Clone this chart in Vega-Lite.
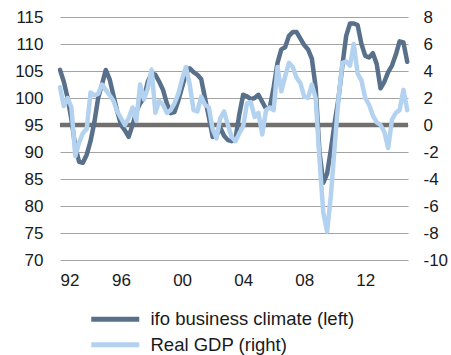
{
  "$schema": "https://vega.github.io/schema/vega-lite/v6.json",
  "width": 348,
  "height": 243,
  "autosize": {"type": "none"},
  "padding": {"left": 60, "top": 17, "right": 43, "bottom": 95},
  "background": "white",
  "config": {
    "view": {"stroke": null},
    "font": "Liberation Sans",
    "axis": {"labelFont": "Liberation Sans", "labelFontSize": 17, "labelColor": "#1a1a1a", "ticks": false, "domain": false},
    "legend": {"labelFont": "Liberation Sans", "labelFontSize": 18.5, "labelColor": "#1a1a1a", "labelLimit": 400}
  },
  "datasets": {
    "ifo": [
      {"t": 1992, "v": 105.2, "s": "ifo business climate (left)"},
      {"t": 1992.25, "v": 103, "s": "ifo business climate (left)"},
      {"t": 1992.5, "v": 100, "s": "ifo business climate (left)"},
      {"t": 1992.75, "v": 96, "s": "ifo business climate (left)"},
      {"t": 1993, "v": 91, "s": "ifo business climate (left)"},
      {"t": 1993.25, "v": 88.2, "s": "ifo business climate (left)"},
      {"t": 1993.5, "v": 88, "s": "ifo business climate (left)"},
      {"t": 1993.75, "v": 89.5, "s": "ifo business climate (left)"},
      {"t": 1994, "v": 92, "s": "ifo business climate (left)"},
      {"t": 1994.25, "v": 95.5, "s": "ifo business climate (left)"},
      {"t": 1994.5, "v": 100, "s": "ifo business climate (left)"},
      {"t": 1994.75, "v": 102.5, "s": "ifo business climate (left)"},
      {"t": 1995, "v": 105.2, "s": "ifo business climate (left)"},
      {"t": 1995.25, "v": 103.5, "s": "ifo business climate (left)"},
      {"t": 1995.5, "v": 100.5, "s": "ifo business climate (left)"},
      {"t": 1995.75, "v": 97.5, "s": "ifo business climate (left)"},
      {"t": 1996, "v": 95, "s": "ifo business climate (left)"},
      {"t": 1996.25, "v": 94, "s": "ifo business climate (left)"},
      {"t": 1996.5, "v": 92.8, "s": "ifo business climate (left)"},
      {"t": 1996.75, "v": 95, "s": "ifo business climate (left)"},
      {"t": 1997, "v": 97.5, "s": "ifo business climate (left)"},
      {"t": 1997.25, "v": 99, "s": "ifo business climate (left)"},
      {"t": 1997.5, "v": 100, "s": "ifo business climate (left)"},
      {"t": 1997.75, "v": 103, "s": "ifo business climate (left)"},
      {"t": 1998, "v": 104.5, "s": "ifo business climate (left)"},
      {"t": 1998.25, "v": 104.3, "s": "ifo business climate (left)"},
      {"t": 1998.5, "v": 103, "s": "ifo business climate (left)"},
      {"t": 1998.75, "v": 101.5, "s": "ifo business climate (left)"},
      {"t": 1999, "v": 99, "s": "ifo business climate (left)"},
      {"t": 1999.25, "v": 97.2, "s": "ifo business climate (left)"},
      {"t": 1999.5, "v": 97.4, "s": "ifo business climate (left)"},
      {"t": 1999.75, "v": 99.5, "s": "ifo business climate (left)"},
      {"t": 2000, "v": 102, "s": "ifo business climate (left)"},
      {"t": 2000.25, "v": 104.5, "s": "ifo business climate (left)"},
      {"t": 2000.5, "v": 105.5, "s": "ifo business climate (left)"},
      {"t": 2000.75, "v": 104.8, "s": "ifo business climate (left)"},
      {"t": 2001, "v": 104.3, "s": "ifo business climate (left)"},
      {"t": 2001.25, "v": 103.5, "s": "ifo business climate (left)"},
      {"t": 2001.5, "v": 100, "s": "ifo business climate (left)"},
      {"t": 2001.75, "v": 96.5, "s": "ifo business climate (left)"},
      {"t": 2002, "v": 92.8, "s": "ifo business climate (left)"},
      {"t": 2002.25, "v": 93, "s": "ifo business climate (left)"},
      {"t": 2002.5, "v": 94.5, "s": "ifo business climate (left)"},
      {"t": 2002.75, "v": 93, "s": "ifo business climate (left)"},
      {"t": 2003, "v": 92.2, "s": "ifo business climate (left)"},
      {"t": 2003.25, "v": 92, "s": "ifo business climate (left)"},
      {"t": 2003.5, "v": 92.5, "s": "ifo business climate (left)"},
      {"t": 2003.75, "v": 97, "s": "ifo business climate (left)"},
      {"t": 2004, "v": 100.6, "s": "ifo business climate (left)"},
      {"t": 2004.25, "v": 100.3, "s": "ifo business climate (left)"},
      {"t": 2004.5, "v": 99.8, "s": "ifo business climate (left)"},
      {"t": 2004.75, "v": 100, "s": "ifo business climate (left)"},
      {"t": 2005, "v": 100.6, "s": "ifo business climate (left)"},
      {"t": 2005.25, "v": 99.3, "s": "ifo business climate (left)"},
      {"t": 2005.5, "v": 98, "s": "ifo business climate (left)"},
      {"t": 2005.75, "v": 98.3, "s": "ifo business climate (left)"},
      {"t": 2006, "v": 102, "s": "ifo business climate (left)"},
      {"t": 2006.25, "v": 106.5, "s": "ifo business climate (left)"},
      {"t": 2006.5, "v": 109, "s": "ifo business climate (left)"},
      {"t": 2006.75, "v": 109.4, "s": "ifo business climate (left)"},
      {"t": 2007, "v": 111.5, "s": "ifo business climate (left)"},
      {"t": 2007.25, "v": 112.2, "s": "ifo business climate (left)"},
      {"t": 2007.5, "v": 112.2, "s": "ifo business climate (left)"},
      {"t": 2007.75, "v": 111, "s": "ifo business climate (left)"},
      {"t": 2008, "v": 109.8, "s": "ifo business climate (left)"},
      {"t": 2008.25, "v": 109, "s": "ifo business climate (left)"},
      {"t": 2008.5, "v": 107.3, "s": "ifo business climate (left)"},
      {"t": 2008.75, "v": 102, "s": "ifo business climate (left)"},
      {"t": 2009, "v": 90, "s": "ifo business climate (left)"},
      {"t": 2009.25, "v": 84.3, "s": "ifo business climate (left)"},
      {"t": 2009.5, "v": 86, "s": "ifo business climate (left)"},
      {"t": 2009.75, "v": 90.5, "s": "ifo business climate (left)"},
      {"t": 2010, "v": 95.5, "s": "ifo business climate (left)"},
      {"t": 2010.25, "v": 100, "s": "ifo business climate (left)"},
      {"t": 2010.5, "v": 106, "s": "ifo business climate (left)"},
      {"t": 2010.75, "v": 111.5, "s": "ifo business climate (left)"},
      {"t": 2011, "v": 113.8, "s": "ifo business climate (left)"},
      {"t": 2011.25, "v": 113.8, "s": "ifo business climate (left)"},
      {"t": 2011.5, "v": 113.5, "s": "ifo business climate (left)"},
      {"t": 2011.75, "v": 110, "s": "ifo business climate (left)"},
      {"t": 2012, "v": 107.8, "s": "ifo business climate (left)"},
      {"t": 2012.25, "v": 107.5, "s": "ifo business climate (left)"},
      {"t": 2012.5, "v": 108.3, "s": "ifo business climate (left)"},
      {"t": 2012.75, "v": 106.3, "s": "ifo business climate (left)"},
      {"t": 2013, "v": 101.8, "s": "ifo business climate (left)"},
      {"t": 2013.25, "v": 103, "s": "ifo business climate (left)"},
      {"t": 2013.5, "v": 104.8, "s": "ifo business climate (left)"},
      {"t": 2013.75, "v": 106, "s": "ifo business climate (left)"},
      {"t": 2014, "v": 108, "s": "ifo business climate (left)"},
      {"t": 2014.25, "v": 110.5, "s": "ifo business climate (left)"},
      {"t": 2014.5, "v": 110.3, "s": "ifo business climate (left)"},
      {"t": 2014.75, "v": 106.7, "s": "ifo business climate (left)"}
    ],
    "gdp": [
      {"t": 1992, "v": 2.8, "s": "Real GDP (right)"},
      {"t": 1992.25, "v": 1.4, "s": "Real GDP (right)"},
      {"t": 1992.5, "v": 2.0, "s": "Real GDP (right)"},
      {"t": 1992.75, "v": 1.3, "s": "Real GDP (right)"},
      {"t": 1993, "v": -2.3, "s": "Real GDP (right)"},
      {"t": 1993.25, "v": -1.3, "s": "Real GDP (right)"},
      {"t": 1993.5, "v": -0.6, "s": "Real GDP (right)"},
      {"t": 1993.75, "v": -0.3, "s": "Real GDP (right)"},
      {"t": 1994, "v": 2.4, "s": "Real GDP (right)"},
      {"t": 1994.25, "v": 2.2, "s": "Real GDP (right)"},
      {"t": 1994.5, "v": 2.3, "s": "Real GDP (right)"},
      {"t": 1994.75, "v": 3.0, "s": "Real GDP (right)"},
      {"t": 1995, "v": 2.6, "s": "Real GDP (right)"},
      {"t": 1995.25, "v": 2.2, "s": "Real GDP (right)"},
      {"t": 1995.5, "v": 1.8, "s": "Real GDP (right)"},
      {"t": 1995.75, "v": 1.0, "s": "Real GDP (right)"},
      {"t": 1996, "v": 0.5, "s": "Real GDP (right)"},
      {"t": 1996.25, "v": 0.0, "s": "Real GDP (right)"},
      {"t": 1996.5, "v": 0.5, "s": "Real GDP (right)"},
      {"t": 1996.75, "v": 1.3, "s": "Real GDP (right)"},
      {"t": 1997, "v": 0.3, "s": "Real GDP (right)"},
      {"t": 1997.25, "v": 3.0, "s": "Real GDP (right)"},
      {"t": 1997.5, "v": 1.9, "s": "Real GDP (right)"},
      {"t": 1997.75, "v": 2.7, "s": "Real GDP (right)"},
      {"t": 1998, "v": 4.1, "s": "Real GDP (right)"},
      {"t": 1998.25, "v": 0.9, "s": "Real GDP (right)"},
      {"t": 1998.5, "v": 1.8, "s": "Real GDP (right)"},
      {"t": 1998.75, "v": 1.5, "s": "Real GDP (right)"},
      {"t": 1999, "v": 0.9, "s": "Real GDP (right)"},
      {"t": 1999.25, "v": 1.1, "s": "Real GDP (right)"},
      {"t": 1999.5, "v": 1.6, "s": "Real GDP (right)"},
      {"t": 1999.75, "v": 2.3, "s": "Real GDP (right)"},
      {"t": 2000, "v": 3.4, "s": "Real GDP (right)"},
      {"t": 2000.25, "v": 4.3, "s": "Real GDP (right)"},
      {"t": 2000.5, "v": 3.0, "s": "Real GDP (right)"},
      {"t": 2000.75, "v": 1.1, "s": "Real GDP (right)"},
      {"t": 2001, "v": 1.0, "s": "Real GDP (right)"},
      {"t": 2001.25, "v": 2.1, "s": "Real GDP (right)"},
      {"t": 2001.5, "v": 1.5, "s": "Real GDP (right)"},
      {"t": 2001.75, "v": 1.3, "s": "Real GDP (right)"},
      {"t": 2002, "v": -0.3, "s": "Real GDP (right)"},
      {"t": 2002.25, "v": -1.0, "s": "Real GDP (right)"},
      {"t": 2002.5, "v": 0.5, "s": "Real GDP (right)"},
      {"t": 2002.75, "v": 1.0, "s": "Real GDP (right)"},
      {"t": 2003, "v": 0.0, "s": "Real GDP (right)"},
      {"t": 2003.25, "v": -0.9, "s": "Real GDP (right)"},
      {"t": 2003.5, "v": -1.2, "s": "Real GDP (right)"},
      {"t": 2003.75, "v": -0.6, "s": "Real GDP (right)"},
      {"t": 2004, "v": -0.1, "s": "Real GDP (right)"},
      {"t": 2004.25, "v": 1.6, "s": "Real GDP (right)"},
      {"t": 2004.5, "v": 1.7, "s": "Real GDP (right)"},
      {"t": 2004.75, "v": 0.6, "s": "Real GDP (right)"},
      {"t": 2005, "v": 0.9, "s": "Real GDP (right)"},
      {"t": 2005.25, "v": -0.7, "s": "Real GDP (right)"},
      {"t": 2005.5, "v": 1.1, "s": "Real GDP (right)"},
      {"t": 2005.75, "v": 1.3, "s": "Real GDP (right)"},
      {"t": 2006, "v": 1.1, "s": "Real GDP (right)"},
      {"t": 2006.25, "v": 4.3, "s": "Real GDP (right)"},
      {"t": 2006.5, "v": 2.5, "s": "Real GDP (right)"},
      {"t": 2006.75, "v": 3.6, "s": "Real GDP (right)"},
      {"t": 2007, "v": 4.6, "s": "Real GDP (right)"},
      {"t": 2007.25, "v": 4.3, "s": "Real GDP (right)"},
      {"t": 2007.5, "v": 3.5, "s": "Real GDP (right)"},
      {"t": 2007.75, "v": 3.1, "s": "Real GDP (right)"},
      {"t": 2008, "v": 2.1, "s": "Real GDP (right)"},
      {"t": 2008.25, "v": 2.0, "s": "Real GDP (right)"},
      {"t": 2008.5, "v": 3.0, "s": "Real GDP (right)"},
      {"t": 2008.75, "v": 2.0, "s": "Real GDP (right)"},
      {"t": 2009, "v": -2.5, "s": "Real GDP (right)"},
      {"t": 2009.25, "v": -6.5, "s": "Real GDP (right)"},
      {"t": 2009.5, "v": -7.9, "s": "Real GDP (right)"},
      {"t": 2009.75, "v": -5.2, "s": "Real GDP (right)"},
      {"t": 2010, "v": -1.5, "s": "Real GDP (right)"},
      {"t": 2010.25, "v": 2.0, "s": "Real GDP (right)"},
      {"t": 2010.5, "v": 4.6, "s": "Real GDP (right)"},
      {"t": 2010.75, "v": 4.7, "s": "Real GDP (right)"},
      {"t": 2011, "v": 4.4, "s": "Real GDP (right)"},
      {"t": 2011.25, "v": 6.0, "s": "Real GDP (right)"},
      {"t": 2011.5, "v": 3.8, "s": "Real GDP (right)"},
      {"t": 2011.75, "v": 3.3, "s": "Real GDP (right)"},
      {"t": 2012, "v": 2.0, "s": "Real GDP (right)"},
      {"t": 2012.25, "v": 1.5, "s": "Real GDP (right)"},
      {"t": 2012.5, "v": 0.7, "s": "Real GDP (right)"},
      {"t": 2012.75, "v": 0.2, "s": "Real GDP (right)"},
      {"t": 2013, "v": 0.0, "s": "Real GDP (right)"},
      {"t": 2013.25, "v": -0.5, "s": "Real GDP (right)"},
      {"t": 2013.5, "v": -1.7, "s": "Real GDP (right)"},
      {"t": 2013.75, "v": 0.4, "s": "Real GDP (right)"},
      {"t": 2014, "v": 0.9, "s": "Real GDP (right)"},
      {"t": 2014.25, "v": 1.1, "s": "Real GDP (right)"},
      {"t": 2014.5, "v": 2.6, "s": "Real GDP (right)"},
      {"t": 2014.75, "v": 1.1, "s": "Real GDP (right)"}
    ]
  },
  "layer": [
    {
      "data": {"values": [{}]},
      "mark": {"type": "rule", "color": "#72706e", "strokeWidth": 4.5},
      "encoding": {
        "y": {"datum": 95, "type": "quantitative", "scale": {"domain": [70, 115]}, "axis": null}
      }
    },
    {
      "data": {"name": "ifo"},
      "mark": {"type": "line", "strokeWidth": 4.5, "strokeCap": "round", "strokeJoin": "round"},
      "encoding": {
        "x": {"field": "t", "type": "quantitative", "scale": {"domain": [1992, 2014.8], "nice": false, "zero": false},
              "axis": {"values": [1992, 1996, 2000, 2004, 2008, 2012], "labelExpr": "slice(toString(datum.value), 2)", "title": null, "grid": false, "labelPadding": 12}},
        "y": {"field": "v", "type": "quantitative", "scale": {"domain": [70, 115], "nice": false, "zero": false},
              "axis": {"orient": "left", "values": [70, 75, 80, 85, 90, 95, 100, 105, 110, 115], "title": null, "grid": true, "gridColor": "#a3a3a3", "gridWidth": 1, "labelPadding": 17}},
        "color": {"field": "s", "type": "nominal",
                  "scale": {"domain": ["ifo business climate (left)", "Real GDP (right)"], "range": ["#58708a", "#b3d2f0"]},
                  "legend": {"title": null, "orient": "none", "legendX": 46, "legendY": 293, "padding": 0, "rowPadding": 4.5,
                             "symbolType": "M-4.8,0H4.8", "symbolSize": 100, "symbolStrokeWidth": 5, "labelOffset": 26, "labelLimit": 400}}
      }
    },
    {
      "data": {"name": "gdp"},
      "mark": {"type": "line", "strokeWidth": 4.5, "strokeCap": "round", "strokeJoin": "round"},
      "encoding": {
        "x": {"field": "t", "type": "quantitative", "scale": {"domain": [1992, 2014.8], "nice": false, "zero": false},
              "axis": {"values": [1992, 1996, 2000, 2004, 2008, 2012], "labelExpr": "slice(toString(datum.value), 2)", "title": null, "grid": false, "labelPadding": 12}},
        "y": {"field": "v", "type": "quantitative", "scale": {"domain": [-10, 8], "nice": false, "zero": false},
              "axis": {"orient": "right", "values": [-10, -8, -6, -4, -2, 0, 2, 4, 6, 8], "labelExpr": "toString(datum.value)", "title": null, "grid": false, "labelPadding": 15}},
        "color": {"field": "s", "type": "nominal"}
      }
    }
  ],
  "resolve": {"scale": {"y": "independent"}}
}
